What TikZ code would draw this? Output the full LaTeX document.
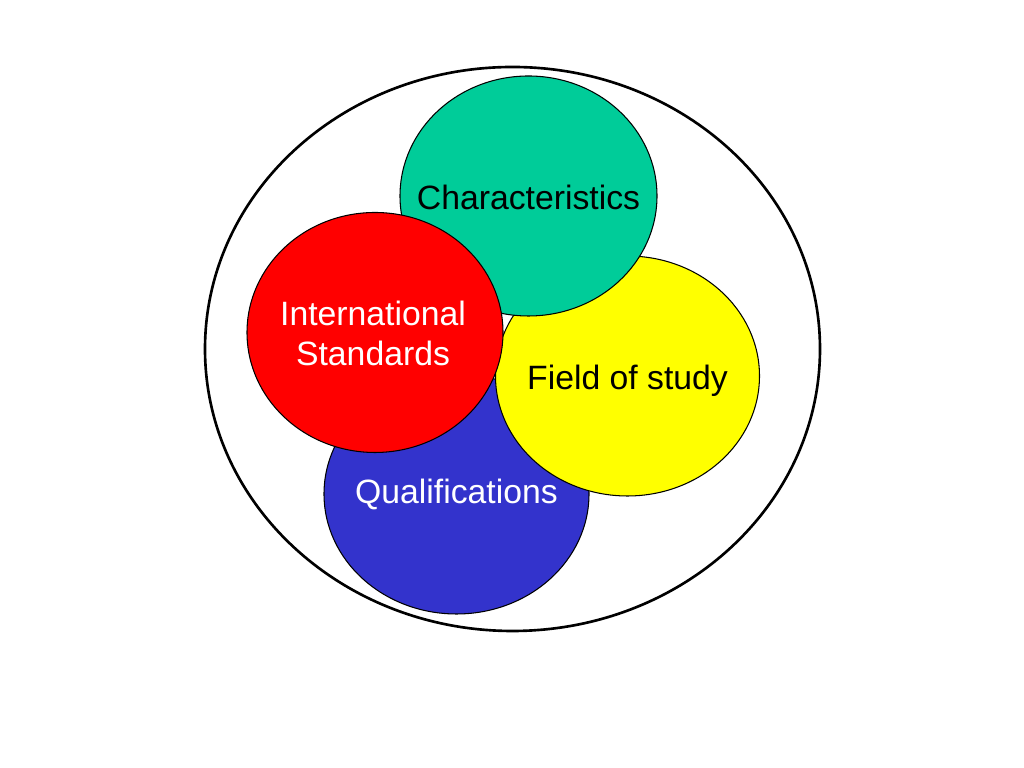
\documentclass[tikz,border=0pt]{standalone}
\usepackage{fontspec}
\setmainfont{Liberation Sans}
\usetikzlibrary{
    shapes.geometric,
    positioning
}
\tikzset{
    % Colors
    nice green/.style={fill={rgb,255:red,0;green,204;blue,153}},
    nice yellow/.style={fill={rgb,255:red,255;green,255;blue,0}},
    nice blue/.style={fill={rgb,255:red,51;green,51;blue,204}},
    nice red/.style={fill={rgb,255:red,255;green,0;blue,0}},
    %
    % Ellipses
    blob/.style={ellipse,draw=black,line width=0.3pt,inner sep=0pt,align=center,
        minimum width=2*#1cm,minimum height=2.4cm},
    blob/.default=1.3,
    frame/.style={ellipse,draw=black,line width=0.75pt,minimum width=6.15cm,minimum height=5.64cm}
}
\tikzstyle{every node}=[font=\fontsize{9.6}{11.4}\selectfont]

\begin{document}
\begin{tikzpicture}
        \useasboundingbox (0,0) rectangle (10.24,7.68);
        \node[frame] (all) at (5.125,4.19) {};
        
        \node[blob=1.325, nice blue, text=white] (qual) at (4.565,2.74) {};
        \node[blob=1.32, nice yellow] (field) at (6.275,3.92) {};
        \node[blob=1.285, nice green] (char) at (5.285,5.72) {};
        \node[blob=1.28, nice red] (intl) at (3.75,4.355) {};
        
        \node[text=white] at ([yshift=0cm]qual) {Qualifications};
        \node at ([xshift=0cm,yshift=-0.05cm]field) {Field of study};
        \node at ([xshift=0cm,yshift=-0.01cm]char) {Characteristics};
        \node[text=white,align=center] at ([xshift=-0.02cm,yshift=-0.01cm]intl) {International\\Standards};
    \end{tikzpicture}
\end{document}
